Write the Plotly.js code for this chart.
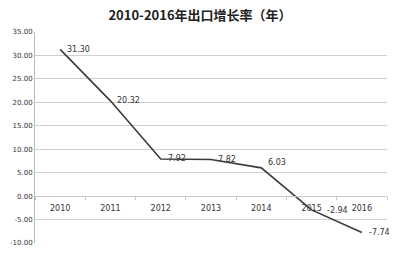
<!DOCTYPE html>
<html><head><meta charset="utf-8">
<script src="https://cdn.plot.ly/plotly-3.0.1.min.js"></script>
<style>html,body{margin:0;padding:0;background:#fff;}</style>
</head><body><div id="chart" style="width:400px;height:258px;"></div>
<script>
var years = ['2010','2011','2012','2013','2014','2015','2016'];
var growth = [31.30, 20.32, 7.92, 7.82, 6.03, -2.94, -7.74];
var labels = ['31.30','20.32','7.92','7.82','6.03','-2.94','-7.74'];
var yTicks = [35,30,25,20,15,10,5,0,-5,-10];
var yTickText = ['35.00','30.00','25.00','20.00','15.00','10.00','5.00','0.00','-5.00','-10.00'];
var yMin = -10, yMax = 35;

var trace = {
  x: years, y: growth, type: 'scatter', mode: 'lines',
  line: {color: '#3a3a3a', width: 1.6},
  cliponaxis: false, hoverinfo: 'none'
};
var xShift = [5, 5, 5, 5, 5, 13, 5];
var yShift = [0, 0, 0, 0, 5, -1, 0];
var annotations = years.map(function(yr, i){
  return {x: years.indexOf(yr), y: growth[i], xref: 'x', yref: 'y', text: labels[i], showarrow: false,
    xanchor: 'left', yanchor: 'middle', xshift: xShift[i], yshift: yShift[i],
    font: {family: 'DejaVu Sans', size: 8, color: '#333'}};
});
var layout = {
  width: 400, height: 258,
  margin: {l: 35, r: 13, t: 32, b: 15},
  paper_bgcolor: '#fff', plot_bgcolor: '#fff',
  showlegend: false,
  annotations: annotations,
  title: {text: '<b>2010-2016年出口增长率（年）</b>', x: 0.5, xanchor: 'center', y: 0.94, yanchor: 'middle',
    font: {family: 'Noto Sans CJK SC', size: 13, color: '#222'}},
  xaxis: {type: 'category', range: [-0.5, 6.5], anchor: 'free',
    position: (0 - yMin) / (yMax - yMin),
    showline: true, linecolor: '#c8c8c8', linewidth: 1,
    ticks: 'outside', ticklen: 3, tickcolor: '#c8c8c8', tickson: 'boundaries',
    ticklabelstandoff: 4,
    showgrid: false, zeroline: false,
    tickfont: {family: 'DejaVu Sans', size: 8, color: '#333'}},
  yaxis: {range: [yMin, yMax], tickvals: yTicks, ticktext: yTickText,
    showline: true, linecolor: '#bbbbbb', linewidth: 1,
    showgrid: true, gridcolor: '#d0d0d0', gridwidth: 1, zeroline: false,
    ticks: '', ticklen: 0,
    tickfont: {family: 'DejaVu Sans', size: 7, color: '#333'}}
};
Plotly.newPlot('chart', [trace], layout, {staticPlot: true, displayModeBar: false});
</script></body></html>
